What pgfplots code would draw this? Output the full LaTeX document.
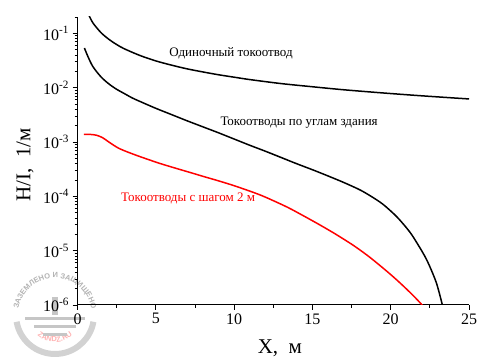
\documentclass[border=0pt]{standalone}
\usepackage{pgfplots}
\pgfplotsset{compat=1.18}
\usepackage{fontspec}
\setmainfont{Liberation Serif}
\newfontfamily\wmfont{Liberation Sans}
\usetikzlibrary{decorations.text}
\begin{document}
\begin{tikzpicture}
% watermark (behind the chart)
\begin{scope}[shift={(-22.5pt,-10pt)}]
  \draw[gray!35, line width=6pt] (190:39pt) arc[start angle=190, end angle=350, radius=39pt];
  \path[decorate, decoration={text along path, text align=center,
     text={|\wmfont\bfseries\fontsize{7.5}{7.5}\selectfont\color{gray!60}|ЗАЗЕМЛЕНО И ЗАЩИЩЕНО}}]
     (200:37pt) arc[start angle=200, end angle=-20, radius=37pt];
  \path[decorate, decoration={text along path, text align=center,
     text={|\wmfont\bfseries\fontsize{7.5}{7.5}\selectfont\color{red!30}|ZANDZ.RU}}]
     (235:27pt) arc[start angle=235, end angle=305, radius=27pt];
  \fill[gray!45] (-3pt,0pt) rectangle (3pt,18pt);
  \fill[gray!45] (-30pt,-2pt) rectangle (30pt,-5pt);
  \fill[gray!45] (-21pt,-10pt) rectangle (21pt,-13pt);
  \fill[gray!45] (-12pt,-18pt) rectangle (12pt,-21pt);
\end{scope}
\begin{axis}[
  scale only axis,
  width=391.5pt, height=288pt,
  xmin=0, xmax=25,
  ymode=log, ymin=1e-6, ymax=0.2,
  axis x line*=bottom, axis y line*=left,
  axis line style={line width=1pt},
  xtick={0,5,10,15,20,25},
  minor xtick={2.5,7.5,12.5,17.5,22.5},
  ytick={1e-6,1e-5,1e-4,1e-3,1e-2,1e-1},
  minor ytick={2e-6,3e-6,4e-6,5e-6,6e-6,7e-6,8e-6,9e-6,
               2e-5,3e-5,4e-5,5e-5,6e-5,7e-5,8e-5,9e-5,
               2e-4,3e-4,4e-4,5e-4,6e-4,7e-4,8e-4,9e-4,
               2e-3,3e-3,4e-3,5e-3,6e-3,7e-3,8e-3,9e-3,
               2e-2,3e-2,4e-2,5e-2,6e-2,7e-2,8e-2,9e-2,0.2},
  yticklabels={10\textsuperscript{-6},10\textsuperscript{-5},10\textsuperscript{-4},10\textsuperscript{-3},10\textsuperscript{-2},10\textsuperscript{-1}},
  tick align=outside,
  major tick length=5pt, minor tick length=3pt,
  tick style={line width=0.8pt, black},
  /pgf/number format/assume math mode=true,
  tick label style={font=\fontsize{16}{16}\selectfont},
  xlabel={X,\ \ м},
  ylabel={H/I,\ \ 1/м},
  label style={font=\fontsize{21}{21}\selectfont},
  xlabel style={at={(axis description cs:0.517,-0.149)}, anchor=center},
  ylabel style={at={(axis description cs:-0.134,0.486)}, anchor=center},
  clip=true,
]
\addplot[black, line width=1.5pt, smooth, tension=0.5] coordinates {
(0.7,0.225) (0.8,0.195) (1.0,0.153) (1.5,0.103) (2.0,0.0778) (2.5,0.0622)
(3.0,0.0518) (4.0,0.0390) (5.0,0.0311) (6.0,0.0260) (7.0,0.0222) (8.0,0.0195)
(9.0,0.0173) (10.0,0.0156) (11.0,0.0141) (13.0,0.0119) (15.0,0.0104)
(17.0,0.00915) (19.5,0.00800) (22.0,0.00708) (25.0,0.00620)
};
\addplot[black, line width=1.5pt, smooth, tension=0.5] coordinates {
(0.44,0.0537) (0.7,0.0355) (1.0,0.0240) (1.5,0.0158) (2.0,0.01175) (2.5,0.00933)
(3.0,0.00776) (3.5,0.00646) (4.0,0.00556) (5.0,0.00417) (6.0,0.0032) (7.0,0.002455)
(8.0,0.001905) (9.0,0.001479) (10.0,0.001135) (11.0,8.71e-4) (12.0,6.76e-4)
(13.0,5.19e-4) (14.0,3.98e-4) (15.0,3.09e-4) (16.0,2.37e-4) (17.0,1.80e-4)
(18.0,1.33e-4) (18.7,1.02e-4) (19.5,7.16e-5) (20.4,4.17e-5) (21.2,2.24e-5)
(21.7,1.35e-5) (22.3,6.76e-6) (22.9,2.63e-6) (23.3,1.0e-6) (23.4,7.6e-7)
};
\addplot[red, line width=1.5pt, smooth, tension=0.5] coordinates {
(0.4,1.38e-3) (0.8,1.38e-3) (1.2,1.334e-3) (1.6,1.202e-3) (2.0,1.0e-3)
(2.6,7.76e-4) (3.25,6.46e-4) (4.0,5.37e-4) (5.16,4.12e-4) (6.0,3.47e-4)
(7.3,2.69e-4) (8.0,2.34e-4) (9.0,1.93e-4) (10.0,1.57e-4) (11.2,1.19e-4)
(12.0,9.66e-5) (13.4,6.31e-5) (14.5,4.27e-5) (15.5,2.95e-5) (16.5,2.0e-5)
(17.6,1.26e-5) (18.5,8.22e-6) (19.3,5.37e-6) (20.0,3.63e-6) (20.6,2.54e-6)
(21.2,1.74e-6) (21.7,1.245e-6) (22.1,9.33e-7)
};
\node[font=\fontsize{13}{13}\selectfont] at (axis cs:9.8,0.0427) {Одиночный токоотвод};
\node[font=\fontsize{13}{13}\selectfont] at (axis cs:14.15,2.28e-3) {Токоотводы по углам здания};
\node[font=\fontsize{13}{13}\selectfont, text=red] at (axis cs:7.06,9.3e-5) {Токоотводы с шагом 2 м};
\coordinate (bbA) at (rel axis cs:-0.198,-0.1944);
\coordinate (bbB) at (rel axis cs:1.0587,1.059);
\end{axis}
\path (bbA) rectangle (bbB);
\end{tikzpicture}
\end{document}
